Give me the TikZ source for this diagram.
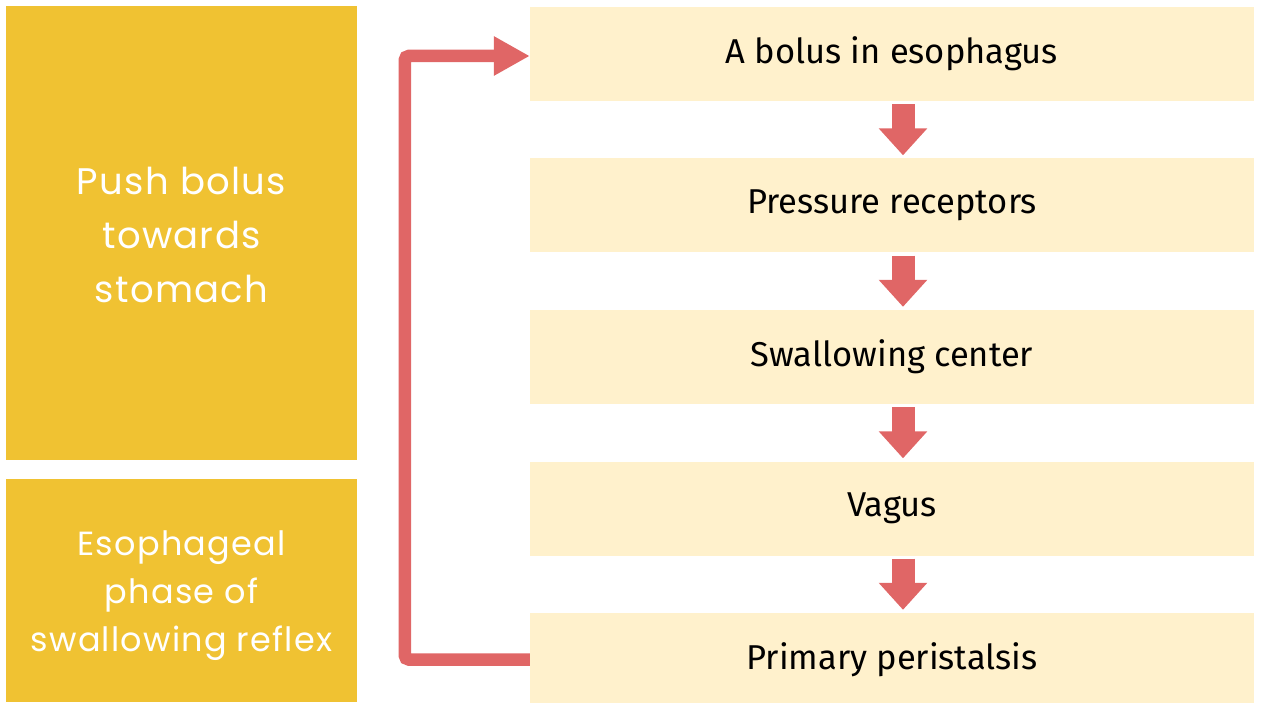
\documentclass[tikz,border=0pt]{standalone}
\usepackage{fontspec}
\setmainfont{Fira Sans}
\newfontfamily\leftfont[LetterSpace=3.5]{Poppins}
\usetikzlibrary{arrows.meta}
\definecolor{gold}{HTML}{F0C232}
\definecolor{cream}{HTML}{FFF1CC}
\definecolor{redarrow}{HTML}{E06666}
\tikzset{
  stepbox/.style={fill=cream, draw=none, minimum width=724pt, minimum height=94pt, inner sep=0pt, text=black, font=\fontsize{34.5}{40}\selectfont},
  sidebox/.style={fill=gold, draw=none, minimum width=351pt, inner sep=0pt},
  sidetext/.style={text=white, align=center, inner sep=0pt},
  downarrow/.style={draw=redarrow, line width=23pt, shorten <=3pt, shorten >=3pt, -{Triangle[width=47pt,length=27pt]}},
  feedback/.style={draw=redarrow, line width=12.5pt, rounded corners=4pt, -{Triangle[width=37pt,length=36pt]}}
}
\begin{document}
\begin{tikzpicture}[x=1pt,y=-1pt]
\useasboundingbox (0,0) rectangle (1261,703);
\node[sidebox, minimum height=454pt] (L1) at (181.5,233) {};
\node[sidetext, font=\leftfont\fontsize{37}{54}\selectfont] (L1t) at ([yshift=-1.5pt]L1.center) {Push bolus\\towards\\stomach};
\node[sidebox, minimum height=223pt] (L2) at (181.5,590.5) {};
\node[sidetext, font=\leftfont\fontsize{33.5}{48}\selectfont] (L2t) at ([yshift=-5pt]L2.center) {Esophageal\\phase of\\swallowing reflex};
\node[stepbox] (b1) at (892,54) {A bolus in esophagus};
\node[stepbox] (b2) at (892,205.5) {Pressure receptors};
\node[stepbox] (b3) at (892,357) {Swallowing center};
\node[stepbox] (b4) at (892,508.5) {Vagus};
\node[stepbox] (b5) at (892,660) {Primary peristalsis};
\draw[downarrow] ([xshift=11pt]b1.south) -- ([xshift=11pt]b2.north);
\draw[downarrow] ([xshift=11pt]b2.south) -- ([xshift=11pt]b3.north);
\draw[downarrow] ([xshift=11pt]b3.south) -- ([xshift=11pt]b4.north);
\draw[downarrow] ([xshift=11pt]b4.south) -- ([xshift=11pt]b5.north);
\draw[feedback] ([yshift=0.5pt]b5.west) -- ++(-125,0) |- ([yshift=-2pt]b1.west);
\end{tikzpicture}
\end{document}
